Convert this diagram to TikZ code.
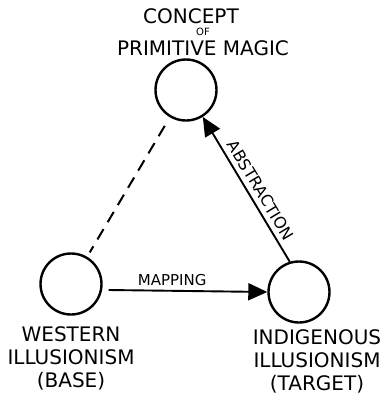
\documentclass[tikz,border=0pt]{standalone}
\usepackage{fontspec}
\setmainfont{DejaVu Sans}
\usepackage{tikz}
\usetikzlibrary{positioning,arrows.meta}

\begin{document}
\begin{tikzpicture}[
  x=1pt, y=-1pt,
  ring/.style={draw, circle, line width=2.4pt, minimum size=61pt, inner sep=0pt},
  lbl/.style={font=\fontsize{20}{23}\selectfont, align=center, inner sep=0pt},
  arrlbl/.style={font=\fontsize{#1}{#1}\selectfont, inner sep=4pt},
  arr/.style={-{Triangle[length=19pt,width=17pt]}, line width=1.9pt},
  linkdash/.style={line width=2pt, dash pattern=on 12pt off 8pt}]

\useasboundingbox (0,0) rectangle (389,400);

% the three ideas
\node[ring] (magic)  at (186,90)  {};
\node[ring] (base)   at (71,284)  {};
\node[ring] (target) at (299,292) {};

\node[lbl, above=2pt of magic, xshift=17pt] (magictxt)
  {\hspace*{-24pt}CONCEPT\\[-11pt]{\fontsize{10}{10}\selectfont OF}\\[-3pt]PRIMITIVE MAGIC};
\node[lbl, below=11pt of base]                (basetxt)   {WESTERN\\ILLUSIONISM\\(BASE)};
\node[lbl, below=6pt of target, xshift=18pt]  (targettxt) {INDIGENOUS\\ILLUSIONISM\\(TARGET)};

% links
\draw[arr] ([xshift=6pt,yshift=-6pt]base.east) -- (target.west)
    node[arrlbl=15, above, pos=0.4] {MAPPING};
\draw[arr] (target.107) -- (magic.-58)
    node[arrlbl=16, above, sloped, pos=0.45, inner sep=5pt] {ABSTRACTION};
\draw[linkdash, shorten <=10pt, shorten >=5pt] (magic) -- (base);
\end{tikzpicture}
\end{document}
